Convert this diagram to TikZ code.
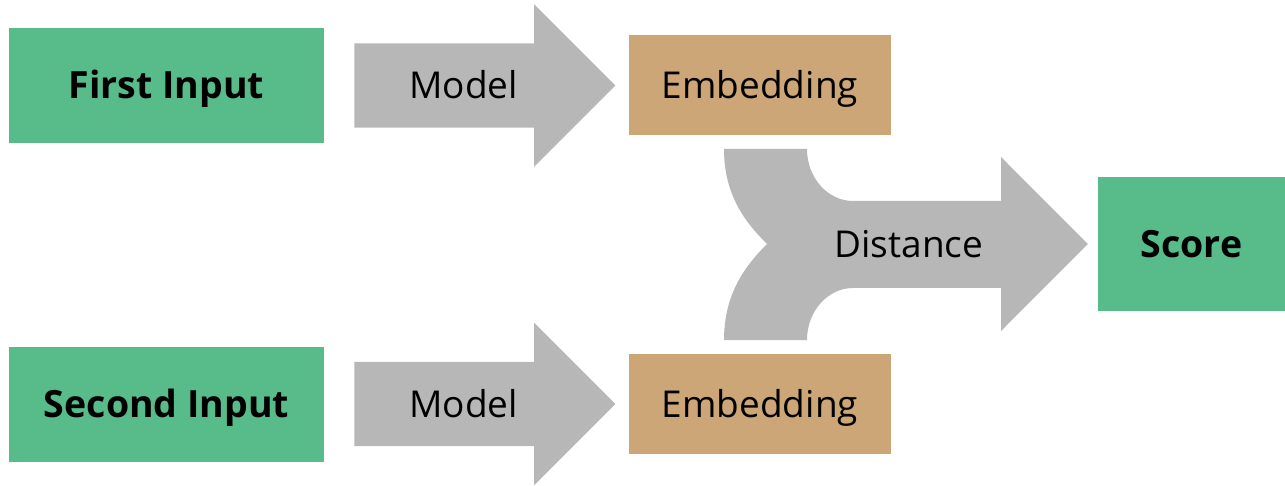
\documentclass[tikz,border=0pt]{standalone}
\usepackage{fontspec}
\setmainfont{Open Sans}
\usepackage{xcolor}
\usetikzlibrary{positioning,shapes.arrows}

\definecolor{boxgreen}{HTML}{57BB8A}
\definecolor{boxtan}{HTML}{CCA677}
\definecolor{arrgray}{HTML}{B7B7B7}

\begin{document}
\begin{tikzpicture}[
  x=1pt, y=-1pt,
  caps/.style={text height=26.5pt, text depth=0pt},
  inp/.style={fill=boxgreen, minimum width=315pt, minimum height=115pt, inner sep=0pt,
    caps, font=\fontsize{37.5}{44}\selectfont\bfseries},
  emb/.style={fill=boxtan, minimum width=262pt, minimum height=100pt, inner sep=0pt,
    caps, font=\fontsize{37}{44}\selectfont},
  fat/.style={single arrow, fill=arrgray, single arrow head extend=39pt,
    minimum height=261pt, inner xsep=0pt, inner ysep=28.75pt,
    caps, font=\fontsize{37}{44}\selectfont},
]
\useasboundingbox (0,0) rectangle (1285,486);

\node[inp] (in1) at (166.5,85.5) {First Input};
\node[inp] (in2) at (166.5,404) {Second Input};
\node[fat, right=30pt of in1] (m1) {Model};
\node[fat, right=30pt of in2] (m2) {Model};
\node[emb, right=13pt of m1] (e1) {Embedding};
\node[emb, right=13pt of m2] (e2) {Embedding};
\node[inp, minimum width=187pt, minimum height=134pt] (score) at (1191.5,244) {Score};

\fill[arrgray] (724,149) -- (807,149)
  .. controls (807,178) and (828,201) .. (853,201) -- (1001,201) -- (1001,157)
  -- ([xshift=-10pt]score.west) -- (1001,331) -- (1001,288) -- (853,288)
  .. controls (828,288) and (807,311) .. (807,340) -- (724,340)
  .. controls (724,294) and (745,266) .. (767,244)
  .. controls (745,222) and (724,195) .. cycle;
\node[caps, font=\fontsize{37}{44}\selectfont] (dist) at (909,244) {Distance};
\end{tikzpicture}
\end{document}
